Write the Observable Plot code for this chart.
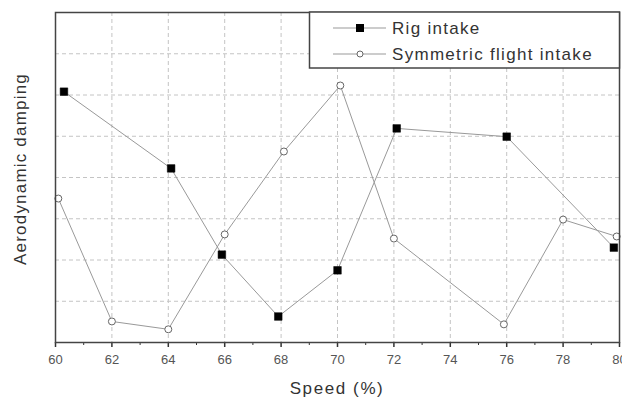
<!DOCTYPE html>
<html><head><meta charset="utf-8">
<script src="https://cdn.jsdelivr.net/npm/d3@7"></script>
<script src="https://cdn.jsdelivr.net/npm/@observablehq/plot@0.6"></script>
<style>html,body{margin:0;padding:0;background:#fff;overflow:hidden}</style>
</head><body><div id="chart"></div>
<script>
const rigSpeed = [60.3, 64.1, 65.9, 67.9, 70.0, 72.1, 76.0, 79.8];
const rigDamping = [6.08, 4.22, 2.13, 0.63, 1.75, 5.19, 4.99, 2.30];
const symSpeed = [60.1, 62.0, 64.0, 66.0, 68.1, 70.1, 72.0, 75.9, 78.0, 79.9];
const symDamping = [3.49, 0.51, 0.32, 2.62, 4.63, 6.23, 2.52, 0.44, 2.98, 2.57];
const seriesNames = ["Rig intake", "Symmetric flight intake"];
const xMajorTicks = [60, 62, 64, 66, 68, 70, 72, 74, 76, 78, 80];
const xMinorTicks = [61, 63, 65, 67, 69, 71, 73, 75, 77, 79];
const yGridTicks = [1, 2, 3, 4, 5, 6, 7];
const xTitle = "Speed (%)";
const yTitle = "Aerodynamic damping";

const rig = rigSpeed.map((x, i) => ({x, y: rigDamping[i]}));
const sym = symSpeed.map((x, i) => ({x, y: symDamping[i]}));

const font = "'Liberation Sans', Arial, sans-serif";
const chart = Plot.plot({
  width: 622, height: 400,
  marginLeft: 55, marginRight: 3, marginTop: 12, marginBottom: 58,
  style: {fontFamily: font, background: "#fff"},
  x: {domain: [60, 80]},
  y: {domain: [0, 8]},
  marks: [
    Plot.gridX(xMajorTicks.slice(1, -1), {stroke: "#c4c4c4", strokeOpacity: 1, strokeDasharray: "4,3"}),
    Plot.gridY(yGridTicks, {stroke: "#c4c4c4", strokeOpacity: 1, strokeDasharray: "4,3"}),
    Plot.axisX(xMajorTicks, {tickSize: 5, tickPadding: 7, fontSize: 13, color: "#555", stroke: "#333", strokeWidth: 1.5, label: null}),
    Plot.axisX(xMinorTicks, {tickSize: 3, tickFormat: () => "", stroke: "#333", label: null}),
    Plot.axisY({ticks: [], label: null}),
    Plot.line(rig, {x: "x", y: "y", stroke: "#999", strokeWidth: 1}),
    Plot.line(sym, {x: "x", y: "y", stroke: "#999", strokeWidth: 1}),
    Plot.dot(sym, {x: "x", y: "y", r: 3.5, symbol: "circle", fill: "#fff", stroke: "#666", strokeWidth: 1}),
    Plot.dot(rig, {x: "x", y: "y", r: 4.3, symbol: "square", fill: "#000", stroke: "#000", strokeWidth: 0.5}),
    Plot.frame({stroke: "#444", strokeWidth: 1.5})
  ]
});
document.getElementById("chart").appendChild(chart);

const svg = d3.select(chart);
svg.append("text")
  .attr("x", 337).attr("y", 388).attr("text-anchor", "middle").attr("dy", "0.35em")
  .attr("font-family", font).attr("font-size", 17).attr("letter-spacing", 1.6)
  .attr("fill", "#333").text(xTitle);
svg.append("text")
  .attr("transform", "translate(20,169) rotate(-90)").attr("text-anchor", "middle").attr("dy", "0.35em")
  .attr("font-family", font).attr("font-size", 17).attr("letter-spacing", 1.2)
  .attr("fill", "#333").text(yTitle);

const lg = svg.append("g");
lg.append("rect").attr("x", 309.5).attr("y", 12).attr("width", 310).attr("height", 56)
  .attr("fill", "#fff").attr("stroke", "#444").attr("stroke-width", 1.5);
seriesNames.forEach((name, i) => {
  const yy = 28 + i * 26;
  lg.append("line").attr("x1", 333).attr("x2", 386).attr("y1", yy).attr("y2", yy)
    .attr("stroke", "#999");
  if (i === 0) {
    lg.append("rect").attr("x", 356).attr("y", yy - 4).attr("width", 8).attr("height", 8).attr("fill", "#000");
  } else {
    lg.append("circle").attr("cx", 360).attr("cy", yy).attr("r", 3).attr("fill", "#fff").attr("stroke", "#666");
  }
  lg.append("text").attr("x", 392).attr("y", yy).attr("dy", "0.35em").attr("text-anchor", "start")
    .attr("font-family", font).attr("font-size", 17).attr("letter-spacing", 1.3)
    .attr("fill", "#333").text(name);
});
</script>
</body></html>
